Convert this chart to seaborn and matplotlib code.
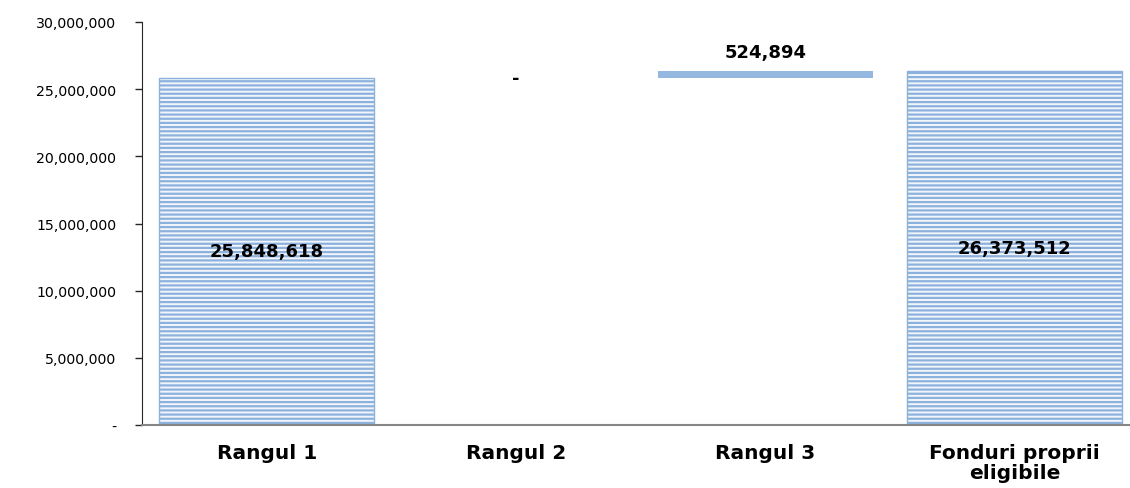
import numpy as np
import matplotlib.pyplot as plt
import seaborn as sns

categories = ['Rangul 1', 'Rangul 2', 'Rangul 3', 'Fonduri proprii\neligibile']
values = [25848618, 0, 524894, 26373512]
bottoms = [0, 25848618, 25848618, 0]
labels = ['25,848,618', '-', '524,894', '26,373,512']

sns.set_style('white')
plt.rcParams['font.family'] = ['DejaVu Sans']
plt.rcParams['hatch.linewidth'] = 1.6
plt.rcParams['hatch.color'] = '#A3C1E6'

fig = plt.figure(figsize=(11.3, 4.89), dpi=100)
ax = fig.add_axes([142 / 1130, 1 - 426 / 489, 1 - 142 / 1130, (426 - 23) / 489])

sns.barplot(x=categories, y=values, bottom=bottoms, ax=ax, width=0.862,
            color='#95B8E0', saturation=1)

for i, p in enumerate(ax.patches):
    if i in (0, 3):
        p.set_facecolor('#F2F6FB')
        p.set_edgecolor('#8DB1DD')
        p.set_hatch('----')
        p.set_linewidth(1.0)
    elif values[i] == 0:
        p.set_visible(False)
    else:
        p.set_facecolor('#95B8E0')
        p.set_edgecolor('#95B8E0')
        p.set_linewidth(0)

# data labels
for i, (v, b, lab) in enumerate(zip(values, bottoms, labels)):
    if i in (0, 3):
        y, va = b + v / 2, 'center'
    elif v == 0:
        y, va = b, 'center'
    else:
        y, va = b + v + 750000, 'bottom'
    ax.text(i, y, lab, ha='center', va=va, fontsize=13, fontweight='bold', color='black')

yt = np.arange(0, 30000001, 5000000)
ax.set_yticks(yt)
ax.set_yticklabels(['-'] + [f'{t:,.0f}' for t in yt[1:]], fontsize=10.2, color='black')

ax.set_xticks(range(len(categories)))
ax.set_xticklabels(categories, fontsize=14.5, fontweight='bold', color='black', linespacing=1.05)
ax.set_xticks(np.arange(-0.5, 3.6, 1), minor=True)
ax.tick_params(axis='x', which='major', length=0, pad=13)
ax.tick_params(axis='x', which='minor', length=5, color='#868686', width=1.5)
ax.tick_params(axis='y', length=5, color='#262626', width=1, pad=13.5, direction='out', left=True)
ax.set_xlabel('')
ax.set_ylabel('')
ax.set_xlim(-0.5, 3.463)
ax.set_ylim(0, 30000000)

sns.despine(ax=ax, top=True, right=True)
ax.spines['left'].set_color('#262626')
ax.spines['bottom'].set_color('#868686')
ax.spines['bottom'].set_linewidth(1.5)

fig.savefig('out.png', dpi=100)
